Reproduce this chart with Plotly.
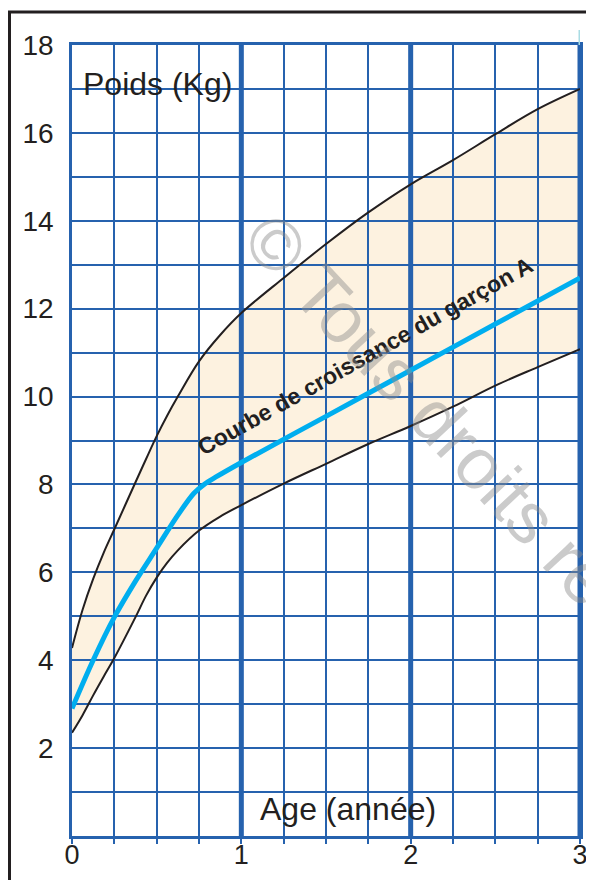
import plotly.graph_objects as go

# ---------------- data ----------------
age = [0, 0.0625, 0.125, 0.1875, 0.25, 0.375, 0.4375, 0.5, 0.5625, 0.625, 0.75, 0.875, 1.0,
       1.25, 1.5, 1.75, 2.0, 2.25, 2.5, 2.75, 3.0]
upper = [4.28, 5.15, 5.85, 6.45, 6.98, 8.05, 8.58, 9.1, 9.57, 10.0, 10.8, 11.4, 11.9,
         12.7, 13.47, 14.19, 14.83, 15.38, 15.97, 16.54, 17.0]
lower = [2.35, 2.75, 3.2, 3.63, 4.05, 4.98, 5.47, 5.88, 6.22, 6.5, 6.95, 7.27, 7.53,
         8.02, 8.47, 8.92, 9.33, 9.77, 10.25, 10.67, 11.08]

age_a = [0, 0.125, 0.25, 0.375, 0.5, 0.625, 0.72, 0.78, 0.85, 1.0, 1.5, 2.0, 2.5, 3.0]
weight_a = [2.9, 4.0, 4.98, 5.8, 6.55, 7.3, 7.8, 8.0, 8.17, 8.5, 9.55, 10.6, 11.65, 12.7]

x_ticks = [i * 0.25 for i in range(13)]
x_labels = ["0", "", "", "", "1", "", "", "", "2", "", "", "", "3"]
y_ticks = list(range(0, 19))
y_labels = ["" if (v == 0 or v % 2) else str(v) for v in y_ticks]
thick_years = [1, 2, 3]

# ---------------- style ----------------
GRID = "#2662ae"
INK = "#231f20"
FILL = "#fdf2e0"
BLUE = "#00aeef"
FONT = "Liberation Sans, Arial, sans-serif"

OFF = 8  # the page body margin places the figure at (8, 8)
W, H = 594 - OFF, 880 - OFF
ML, MR, MT, MB = 72 - OFF, 14, 45 - OFF, 44
pw, ph = W - ML - MR, H - MT - MB
X0, X1, Y0, Y1 = 0, 3, 0, 18
KX, KY = pw / (X1 - X0), ph / (Y1 - Y0)


def px_to_paper_x(px):  # px in window pixels
    return (px - OFF - ML) / pw


def px_to_paper_y(py):
    return (H - MB - (py - OFF)) / ph


# ---- same spline construction as plotly.js (line.shape='spline', smoothing=1) ----
def _tangent(p0, p1, p2, s):
    d1x, d1y = p0[0] - p1[0], p0[1] - p1[1]
    d2x, d2y = p2[0] - p1[0], p2[1] - p1[1]
    d1a = (d1x * d1x + d1y * d1y) ** 0.25
    d2a = (d2x * d2x + d2y * d2y) ** 0.25
    numx = (d2a * d2a * d1x - d1a * d1a * d2x) * s
    numy = (d2a * d2a * d1y - d1a * d1a * d2y) * s
    den1 = 3 * d2a * (d1a + d2a)
    den2 = 3 * d1a * (d1a + d2a)
    return ((p1[0] + (numx / den1 if den1 else 0), p1[1] + (numy / den1 if den1 else 0)),
            (p1[0] - (numx / den2 if den2 else 0), p1[1] - (numy / den2 if den2 else 0)))


def spline_segments(xs, ys, s=1.0):
    pts = [(x * KX, -y * KY) for x, y in zip(xs, ys)]
    back = lambda p: f"{p[0] / KX},{-p[1] / KY}"
    tg = [_tangent(pts[i - 1], pts[i], pts[i + 1], s) for i in range(1, len(pts) - 1)]
    out = " Q " + back(tg[0][0]) + " " + back(pts[1])
    for i in range(2, len(pts) - 1):
        out += " C " + back(tg[i - 2][1]) + " " + back(tg[i - 1][0]) + " " + back(pts[i])
    out += " Q " + back(tg[-1][1]) + " " + back(pts[-1])
    return out


fig = go.Figure()
for ys in (lower, upper):
    fig.add_trace(go.Scatter(x=age, y=ys, mode="lines",
                             line=dict(color=INK, width=2, shape="spline", smoothing=1),
                             hoverinfo="skip", showlegend=False))
fig.add_trace(go.Scatter(x=age_a, y=weight_a, mode="lines",
                         line=dict(color=BLUE, width=5, shape="spline", smoothing=1),
                         hoverinfo="skip", showlegend=False))

# band fill, drawn below the gridlines
path = (f"M {age[0]},{upper[0]}" + spline_segments(age, upper)
        + f" L {age[-1]},{lower[-1]}" + spline_segments(age[::-1], lower[::-1]) + " Z")
shapes = [dict(type="path", path=path, xref="x", yref="y", layer="below",
               fillcolor=FILL, line=dict(width=0))]

for yr in thick_years:
    shapes.append(dict(type="line", xref="x", yref="y", x0=yr, x1=yr, y0=0, y1=18,
                       layer="between", line=dict(color=GRID, width=5)))

shapes.append(dict(type="line", xref="x", yref="paper", x0=3, x1=3,
                   y0=1.0, y1=px_to_paper_y(30), line=dict(color="#a9dce4", width=3)))

shapes.append(dict(type="rect", xref="paper", yref="paper",
                   x0=px_to_paper_x(9.5), x1=px_to_paper_x(620),
                   y0=px_to_paper_y(900), y1=px_to_paper_y(12),
                   line=dict(color=INK, width=3), fillcolor="rgba(0,0,0,0)"))

annotations = [
    dict(text="Poids (Kg)", x=(81 - 72.5) / KX, y=17.12, xref="x", yref="y", xanchor="left",
         yanchor="middle", showarrow=False, font=dict(family=FONT, size=32, color=INK)),
    dict(text="Age (année)", x=(258 - 72.5) / KX, y=0.62, xref="x", yref="y", xanchor="left",
         yanchor="middle", showarrow=False, font=dict(family=FONT, size=32, color=INK)),
    dict(text="<b>Courbe de croissance du garçon A</b>", x=1.731, y=10.93, xref="x", yref="y",
         xanchor="center", yanchor="middle", textangle=-29.3, showarrow=False,
         font=dict(family=FONT, size=23, color=INK)),
    dict(text="© Tous droits réservés", x=px_to_paper_x(502), y=px_to_paper_y(487),
         xref="paper", yref="paper", xanchor="center", yanchor="middle", textangle=47,
         showarrow=False, font=dict(family=FONT, size=72, color="rgba(140,140,140,0.45)")),
]

fig.update_layout(
    width=W, height=H,
    margin=dict(l=ML, r=MR, t=MT, b=MB, pad=0, autoexpand=False),
    paper_bgcolor="white", plot_bgcolor="white",
    shapes=shapes, annotations=annotations,
    showlegend=False,
    xaxis=dict(range=[X0, X1], tickvals=x_ticks, ticktext=x_labels, showgrid=True,
               gridcolor=GRID, gridwidth=2, zeroline=False, automargin=False,
               showline=True, mirror=True, linecolor=GRID, linewidth=3,
               ticks="outside", ticklen=5, tickwidth=2, tickcolor=GRID,
               tickfont=dict(family=FONT, size=27, color=INK), ticklabelstandoff=-12,
               fixedrange=True),
    yaxis=dict(range=[Y0, Y1], tickvals=y_ticks, ticktext=y_labels, showgrid=True,
               gridcolor=GRID, gridwidth=2, zeroline=False, automargin=False,
               showline=True, mirror=True, linecolor=GRID, linewidth=2.5,
               ticks="", tickfont=dict(family=FONT, size=28, color=INK),
               ticklabelstandoff=10, fixedrange=True),
)

fig.write_html("out.html")
